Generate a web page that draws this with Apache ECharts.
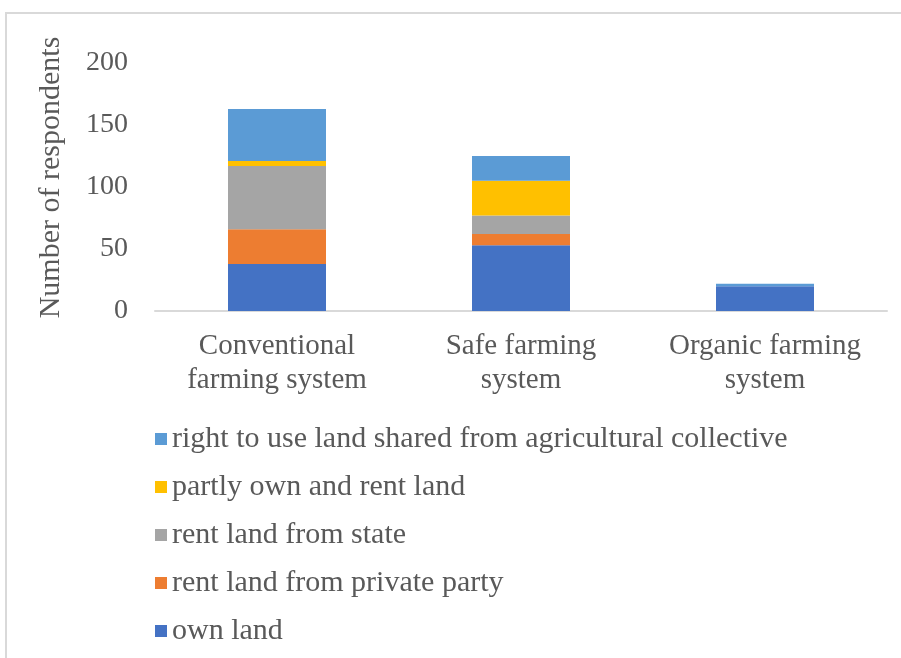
<!DOCTYPE html>
<html>
<head>
<meta charset="utf-8">
<script src="https://cdn.jsdelivr.net/npm/echarts@6/dist/echarts.min.js"></script>
<style>
  html, body { margin: 0; padding: 0; background: #fff; }
  #chart { width: 901px; height: 658px; }
</style>
</head>
<body>
<div id="chart"></div>
<script>
// categories on the x axis
var categories = ['Conventional\nfarming system', 'Safe farming\nsystem', 'Organic farming\nsystem']
// stacked series, bottom to top
var ownLand = [38, 53, 20]
var rentPrivate = [28, 9, 0]
var rentState = [51, 15, 0]
var partlyOwnRent = [4, 28, 0]
var rightToUse = [42, 20, 2]
var yTicks = { min: 0, max: 200, interval: 50 }

var textColor = '#595959'
var serif = '"Liberation Serif", "Times New Roman", serif'

var chart = echarts.init(document.getElementById('chart'))

function barSeries(name, data, color) {
  return {
    name: name,
    type: 'bar',
    stack: 'total',
    barWidth: 98,
    data: data,
    itemStyle: { color: color },
    emphasis: { disabled: true }
  }
}

chart.setOption({
  animation: false,
  textStyle: { fontFamily: serif },
  graphic: [
    {
      type: 'rect',
      shape: { x: 6, y: 13, width: 920, height: 680 },
      style: { fill: 'none', stroke: '#d9d9d9', lineWidth: 2 },
      silent: true
    }
  ],
  grid: {
    left: 155,
    right: 14,
    top: 63,
    height: 248
  },
  legend: {
    orient: 'vertical',
    left: 150,
    top: 419,
    itemWidth: 12,
    itemHeight: 12,
    itemGap: 18,
    itemTextGap: 6,
    icon: 'rect',
    data: [
      'right to use land shared from agricultural collective',
      'partly own and rent land',
      'rent land from state',
      'rent land from private party',
      'own land'
    ],
    textStyle: {
      fontFamily: serif,
      fontSize: 30,
      lineHeight: 30,
      color: textColor
    }
  },
  xAxis: {
    type: 'category',
    data: categories,
    axisLine: { lineStyle: { color: '#d9d9d9', width: 2 } },
    axisTick: { show: false },
    axisLabel: {
      interval: 0,
      margin: 18,
      fontFamily: serif,
      fontSize: 29,
      lineHeight: 34,
      color: textColor
    }
  },
  yAxis: {
    type: 'value',
    min: yTicks.min,
    max: yTicks.max,
    interval: yTicks.interval,
    name: 'Number of respondents',
    nameLocation: 'middle',
    nameGap: 89,
    nameTextStyle: {
      fontFamily: serif,
      fontSize: 30,
      color: textColor,
      padding: [0, 0, 0, 19]
    },
    axisLine: { show: false },
    axisTick: { show: false },
    splitLine: { show: false },
    axisLabel: {
      margin: 27,
      fontFamily: serif,
      fontSize: 28,
      color: textColor
    }
  },
  series: [
    barSeries('own land', ownLand, '#4472C4'),
    barSeries('rent land from private party', rentPrivate, '#ED7D31'),
    barSeries('rent land from state', rentState, '#A5A5A5'),
    barSeries('partly own and rent land', partlyOwnRent, '#FFC000'),
    barSeries('right to use land shared from agricultural collective', rightToUse, '#5B9BD5')
  ]
})
</script>
</body>
</html>
